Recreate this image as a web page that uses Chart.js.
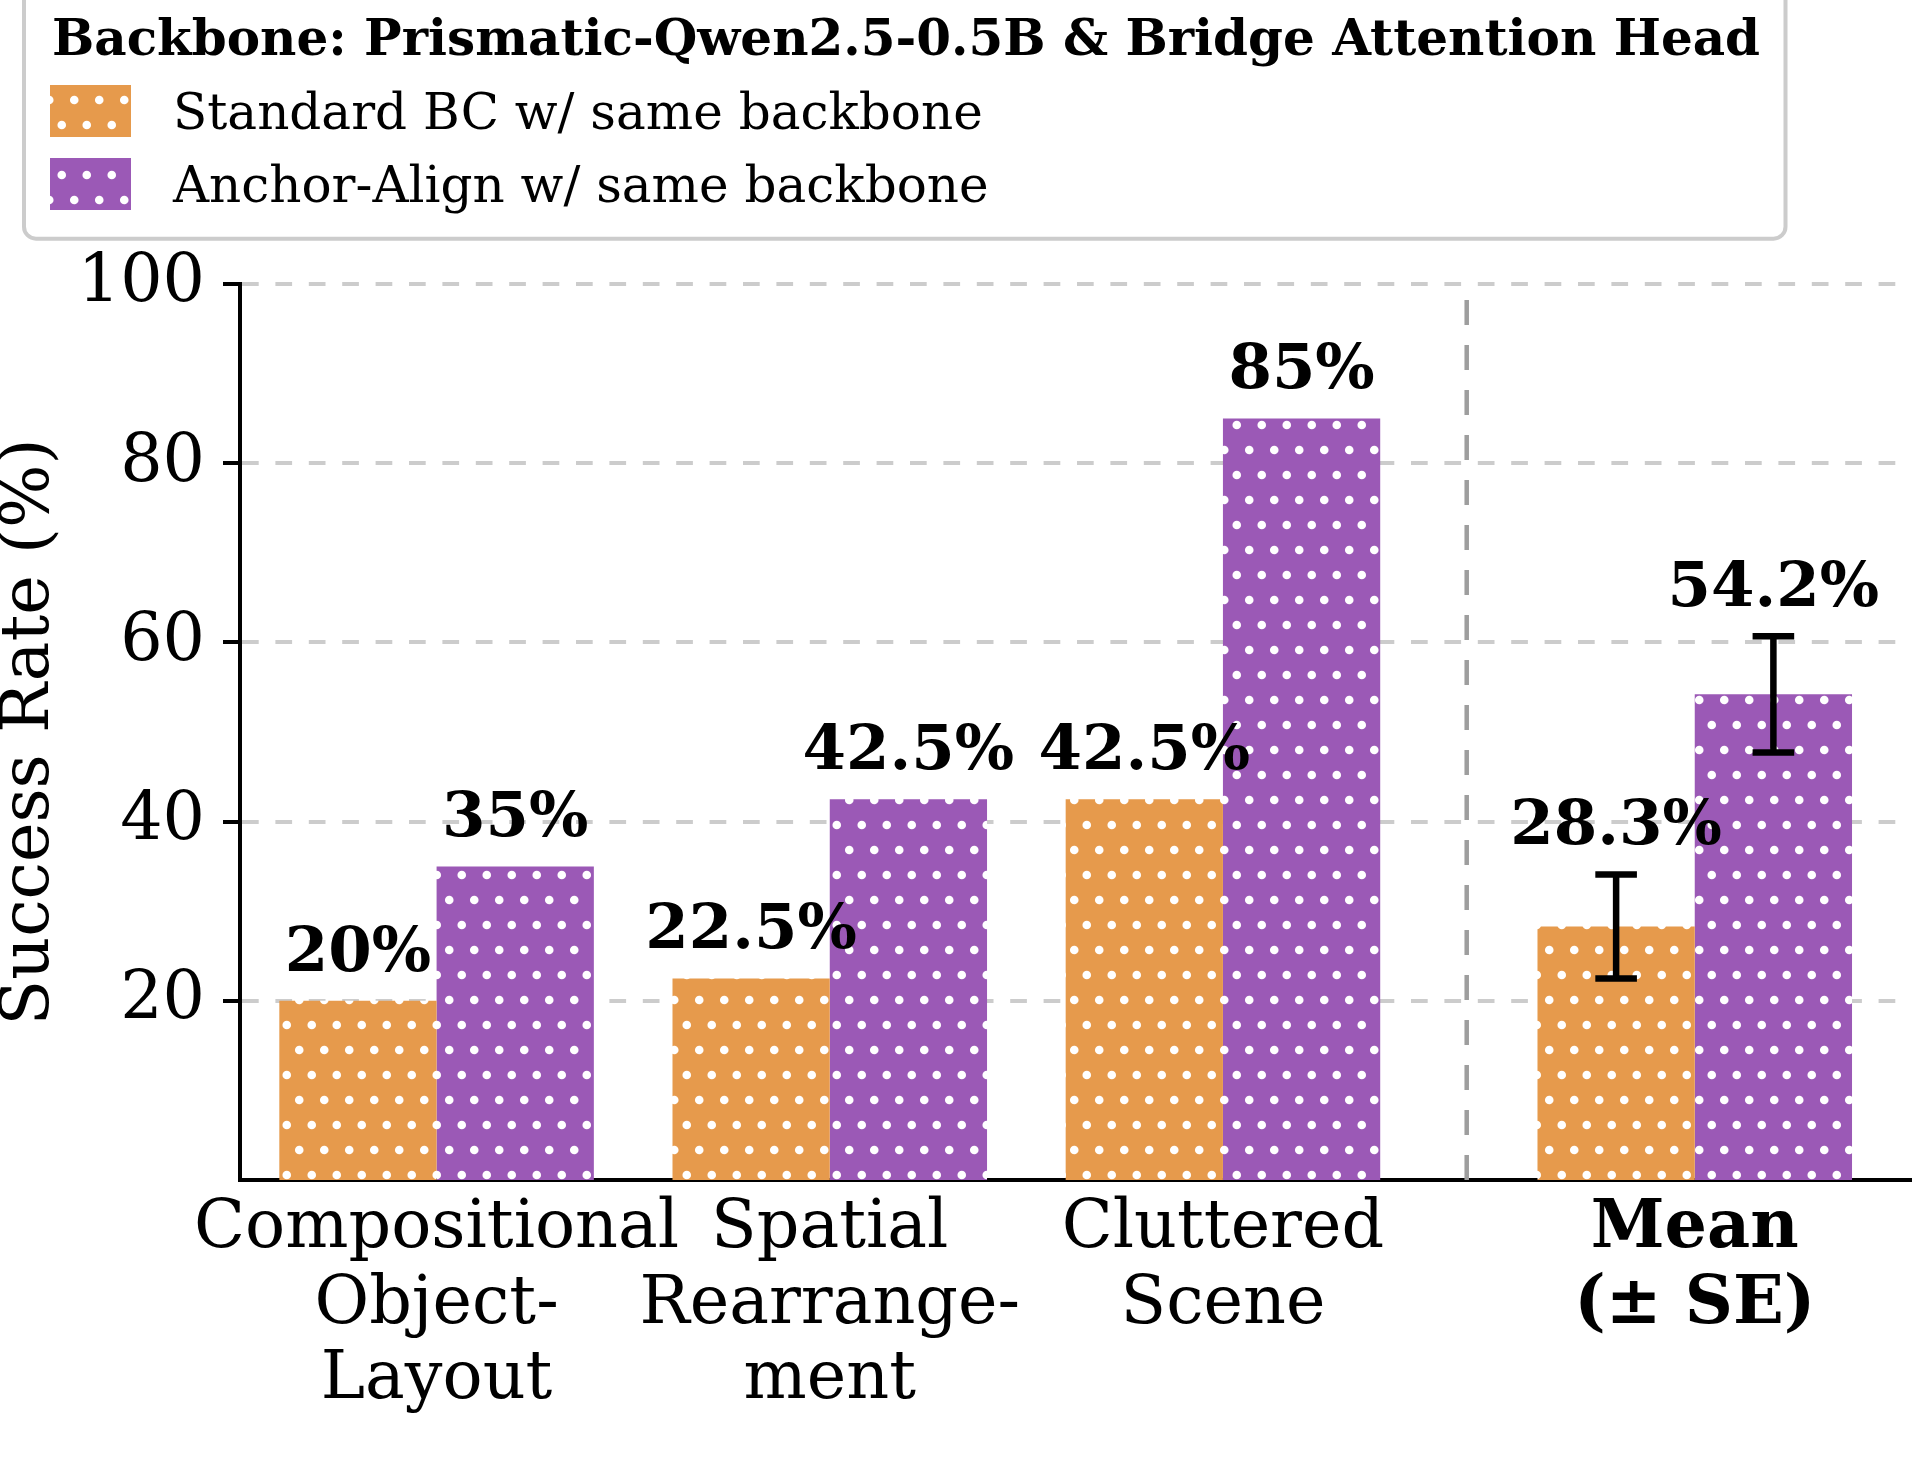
<!DOCTYPE html>
<html>
<head>
<meta charset="utf-8">
<script src="https://cdn.jsdelivr.net/npm/chart.js@4.4.1/dist/chart.umd.min.js"></script>
<style>
html,body{margin:0;padding:0;background:#ffffff;}
canvas{display:block;}
</style>
</head>
<body>
<canvas id="c" width="1926" height="1458"></canvas>
<script>
// ---- data ----
const categories = [
  ["Compositional", "Object-", "Layout"],
  ["Spatial", "Rearrange-", "ment"],
  ["Cluttered", "Scene"],
  ["Mean", "(± SE)"]
];
const xPositions = [0, 1, 2, 3.2];
const separatorAt = 2.62;
const seriesNames = ["Standard BC w/ same backbone", "Anchor-Align w/ same backbone"];
const standardBC = [20, 22.5, 42.5, 28.3];
const anchorAlign = [35, 42.5, 85, 54.2];
const standardSE = [null, null, null, 5.8];
const anchorSE = [null, null, null, 6.5];
const yTicks = [20, 40, 60, 80, 100];
const yTitle = "Success Rate (%)";
const legendTitle = "Backbone: Prismatic-Qwen2.5-0.5B & Bridge Attention Head";

const FAMILY = "'DejaVu Serif', serif";
const ORANGE = "#e69a4c";
const PURPLE = "#9b59b6";

const canvas = document.getElementById('c');
const mainCtx = canvas.getContext('2d');

function dotPattern(color) {
  const t = document.createElement('canvas');
  t.width = 25; t.height = 50;
  const g = t.getContext('2d');
  g.fillStyle = color;
  g.fillRect(0, 0, 25, 50);
  g.fillStyle = '#ffffff';
  const pts = [[11.75, 25], [24.25, 0]];
  for (const [px, py] of pts) {
    for (const dx of [-25, 0, 25]) {
      for (const dy of [-50, 0, 50]) {
        g.beginPath();
        g.arc(px + dx, py + dy, 4.3, 0, Math.PI * 2);
        g.fill();
      }
    }
  }
  return mainCtx.createPattern(t, 'repeat');
}

const valuesBySeries = [standardBC, anchorAlign];
const seBySeries = [standardSE, anchorSE];

const separatorPlugin = {
  id: 'separator',
  beforeDatasetsDraw(chart) {
    const ctx = chart.ctx;
    const xs = chart.scales.x;
    const area = chart.chartArea;
    const x = xs.getPixelForValue(separatorAt);
    ctx.save();
    ctx.strokeStyle = '#9e9e9e';
    ctx.lineWidth = 4.5;
    ctx.setLineDash([25, 20]);
    ctx.beginPath();
    ctx.moveTo(x, area.bottom);
    ctx.lineTo(x, area.top);
    ctx.stroke();
    ctx.restore();
  }
};

const annotatePlugin = {
  id: 'annotate',
  afterDatasetsDraw(chart) {
    const ctx = chart.ctx;
    const ys = chart.scales.y;
    ctx.save();
    chart.data.datasets.forEach((ds, di) => {
      const meta = chart.getDatasetMeta(di);
      meta.data.forEach((bar, i) => {
        const v = valuesBySeries[di][i];
        const se = seBySeries[di][i];
        let topVal = v;
        if (se != null) {
          const yt = ys.getPixelForValue(v + se);
          const yb = ys.getPixelForValue(v - se);
          ctx.strokeStyle = '#000';
          ctx.lineWidth = 6.5;
          ctx.lineCap = 'butt';
          ctx.setLineDash([]);
          ctx.beginPath();
          ctx.moveTo(bar.x, yb);
          ctx.lineTo(bar.x, yt);
          ctx.moveTo(bar.x - 20.8, yt);
          ctx.lineTo(bar.x + 20.8, yt);
          ctx.moveTo(bar.x - 20.8, yb);
          ctx.lineTo(bar.x + 20.8, yb);
          ctx.stroke();
          topVal = v + se;
        }
        ctx.fillStyle = '#000';
        ctx.font = "bold 62.5px " + FAMILY;
        ctx.textAlign = 'center';
        ctx.textBaseline = 'alphabetic';
        ctx.fillText(v + '%', bar.x, ys.getPixelForValue(topVal) - 30);
      });
    });
    ctx.restore();
  }
};

function roundRectPath(ctx, x, y, w, h, r) {
  ctx.beginPath();
  ctx.moveTo(x + r, y);
  ctx.lineTo(x + w - r, y);
  ctx.arcTo(x + w, y, x + w, y + r, r);
  ctx.lineTo(x + w, y + h - r);
  ctx.arcTo(x + w, y + h, x + w - r, y + h, r);
  ctx.lineTo(x + r, y + h);
  ctx.arcTo(x, y + h, x, y + h - r, r);
  ctx.lineTo(x, y + r);
  ctx.arcTo(x, y, x + r, y, r);
  ctx.closePath();
}

const legendPlugin = {
  id: 'boxLegend',
  afterDraw(chart) {
    const ctx = chart.ctx;
    ctx.save();
    roundRectPath(ctx, 24, -20, 1761.5, 258.7, 12);
    ctx.fillStyle = 'rgba(255,255,255,0.9)';
    ctx.fill();
    ctx.strokeStyle = '#cccccc';
    ctx.lineWidth = 4;
    ctx.stroke();
    ctx.fillStyle = '#000';
    ctx.textAlign = 'left';
    ctx.textBaseline = 'alphabetic';
    ctx.font = "bold 50px " + FAMILY;
    ctx.fillText(legendTitle, 52, 55);
    chart.data.datasets.forEach((ds, i) => {
      const y0 = 85 + i * 73;
      ctx.fillStyle = ds.backgroundColor;
      ctx.fillRect(50, y0, 81, 52);
      ctx.fillStyle = '#000';
      ctx.font = "50px " + FAMILY;
      ctx.fillText(ds.label, 173, 128.5 + i * 73);
    });
    ctx.restore();
  }
};

new Chart(mainCtx, {
  type: 'bar',
  data: {
    datasets: [
      {
        label: seriesNames[0],
        data: xPositions.map((x, i) => ({ x: x, y: standardBC[i] })),
        backgroundColor: dotPattern(ORANGE),
        borderWidth: 0
      },
      {
        label: seriesNames[1],
        data: xPositions.map((x, i) => ({ x: x, y: anchorAlign[i] })),
        backgroundColor: dotPattern(PURPLE),
        borderWidth: 0
      }
    ]
  },
  options: {
    responsive: false,
    animation: false,
    devicePixelRatio: 1,
    categoryPercentage: 0.8,
    barPercentage: 1.0,
    layout: { padding: { left: 0, top: 284, right: 15, bottom: 0 } },
    plugins: {
      legend: { display: false },
      tooltip: { enabled: false },
      title: { display: false }
    },
    scales: {
      x: {
        type: 'linear',
        offset: false,
        min: -0.5,
        max: 3.75,
        afterBuildTicks(scale) {
          scale.ticks = xPositions.map(v => ({ value: v }));
        },
        afterFit(scale) { scale.height = 278; },
        grid: { display: false, drawTicks: false, offset: false },
        border: { display: true, color: '#000', width: 4 },
        ticks: {
          autoSkip: false,
          maxRotation: 0,
          minRotation: 0,
          padding: 12,
          color: '#000',
          font: (c) => ({ family: FAMILY, size: 66.7, weight: c.index === 3 ? 'bold' : 'normal', lineHeight: '75.5px' }),
          callback: (value, index) => categories[index]
        }
      },
      y: {
        min: 0,
        max: 100,
        afterBuildTicks(scale) {
          scale.ticks = yTicks.map(v => ({ value: v }));
        },
        afterFit(scale) { scale.width = 240; },
        grid: {
          color: '#cccccc',
          lineWidth: 4,
          drawTicks: true,
          tickLength: 17,
          tickWidth: 4,
          tickColor: '#000'
        },
        border: { display: true, color: '#000', width: 4, dash: [16.7, 16.7] },
        ticks: {
          padding: 18,
          color: '#000',
          font: { family: FAMILY, size: 66.7, weight: 'normal' }
        },
        title: {
          display: true,
          text: yTitle,
          color: '#000',
          padding: 0,
          font: { family: FAMILY, size: 66.7, weight: 'normal', lineHeight: '62px' }
        }
      }
    }
  },
  plugins: [separatorPlugin, annotatePlugin, legendPlugin]
});
</script>
</body>
</html>
